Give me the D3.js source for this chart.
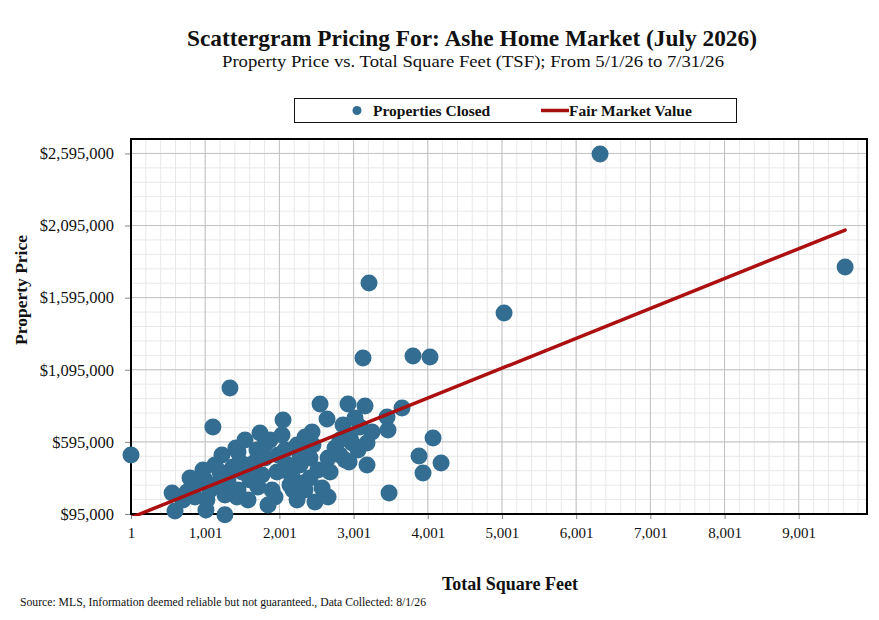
<!DOCTYPE html>
<html>
<head>
<meta charset="utf-8">
<script src="https://cdn.jsdelivr.net/npm/d3@7"></script>
<style>
  body { margin: 0; background: #fff; }
  text { font-family: "Liberation Serif", "DejaVu Serif", serif; fill: #111; }
</style>
</head>
<body>
<div id="chart"></div>
<script>
// properties closed: total square feet and sale price
var sqft = [
  555, 594, 756, 890, 971, 1011, 1024, 1105, 1267, 1227, 1415, 1375, 1200, 1429, 1335,
  1132, 1308, 1469, 1065, 863, 1267, 702, 998, 796,
  1443, 1443, 1497, 1578, 1673, 1699, 1713, 1740, 1767, 1875, 1902, 1942, 1969, 1983,
  2036, 2050, 2117, 2144, 2171, 2185, 2239, 2239, 2319, 2414, 2414, 2441, 2454, 2481,
  2549, 2643, 2657, 2657, 2751, 1807, 1605, 2279, 2522, 2077, 1848, 1538, 2347, 2576,
  2684, 2279, 2050, 2346, 1605, 2818, 1132, 1807,
  2859, 2886, 2926, 2940, 2953, 2980, 3020, 3088, 3128, 3155, 3182, 3182, 3209, 3250,
  3452, 3465, 3479, 3654, 3802, 3883, 3937, 4031, 4072, 4180, 2818, 3061,
  1, 5029, 6323, 9626
];
var price = [
  240000, 116000, 247500, 310000, 400000, 122700, 192000, 698000, 90000, 504000, 552600,
  421000, 386000, 213000, 968600, 296000, 330700, 455500, 261400, 213000, 226700, 192000,
  330700, 344600,
  524800, 261400, 386000, 192000, 455500, 538700, 282200, 656600, 365400, 608000, 261400,
  213000, 386000, 504000, 642700, 746700, 434700, 296000, 351500, 261400, 573400, 192000,
  310000, 483200, 344600, 663500, 573400, 178200, 857600, 753600, 483200, 213000, 552600,
  483200, 330700, 434700, 400000, 538700, 157400, 608000, 628800, 275300, 386000, 504000,
  400000, 261400, 434700, 504000, 434700, 573400,
  712000, 469400, 857600, 455500, 628800, 587200, 760600, 698000, 1176500, 843800, 587200,
  434700, 1696500, 663500, 767500, 677400, 240600, 829900, 1190400, 497100, 379300,
  1183500, 621900, 448600, 608000, 538700,
  504000, 1488500, 2591000, 1807500
];

// fair market value trend line (end points)
var fairSqft = [1, 9626];
var fairPrice = [70000, 2064000];

var xTicks = [1, 1001, 2001, 3001, 4001, 5001, 6001, 7001, 8001, 9001];
var yTicks = [95000, 595000, 1095000, 1595000, 2095000, 2595000];

var W = 879, H = 620;
var pLeft = 131, pRight = 867, pTop = 139, pBottom = 514;

var svg = d3.select("#chart").append("svg")
  .attr("width", W)
  .attr("height", H);

var x = d3.scaleLinear().domain([1, 9921]).range([pLeft, pRight]);
var y = d3.scaleLinear().domain([95000, 2695000]).range([pBottom, pTop]);

// titles
svg.append("text")
  .attr("x", 472).attr("y", 46)
  .attr("text-anchor", "middle")
  .attr("font-size", "23px")
  .attr("font-weight", "bold")
  .attr("textLength", 570)
  .attr("lengthAdjust", "spacingAndGlyphs")
  .text("Scattergram Pricing For: Ashe Home Market (July 2026)");

svg.append("text")
  .attr("x", 473).attr("y", 67)
  .attr("text-anchor", "middle")
  .attr("font-size", "16.5px")
  .attr("textLength", 502)
  .attr("lengthAdjust", "spacingAndGlyphs")
  .text("Property Price vs. Total Square Feet (TSF); From 5/1/26 to 7/31/26");

// legend
var legend = svg.append("g");
legend.append("rect")
  .attr("x", 294.5).attr("y", 98.5)
  .attr("width", 442).attr("height", 24)
  .attr("fill", "#fff")
  .attr("stroke", "#111")
  .attr("stroke-width", 1);
legend.append("circle")
  .attr("cx", 357).attr("cy", 110.5).attr("r", 4.5)
  .attr("fill", "#336d91");
legend.append("text")
  .attr("x", 373).attr("y", 115.5)
  .attr("font-size", "15.5px").attr("font-weight", "bold")
  .text("Properties Closed");
legend.append("line")
  .attr("x1", 541).attr("x2", 569)
  .attr("y1", 110.5).attr("y2", 110.5)
  .attr("stroke", "#a50f0f").attr("stroke-width", 3.5);
legend.append("text")
  .attr("x", 569).attr("y", 115.5)
  .attr("font-size", "15.5px").attr("font-weight", "bold")
  .text("Fair Market Value");

// grid: minor lines first, then major lines
var xMinor = d3.range(201, 9921, 200);
var yMinor = d3.range(195000, 2695000, 100000);

var grid = svg.append("g");
grid.selectAll(".vminor").data(xMinor).join("line")
  .attr("x1", function (d) { return x(d); })
  .attr("x2", function (d) { return x(d); })
  .attr("y1", pTop).attr("y2", pBottom)
  .attr("stroke", "#e8e8e8").attr("stroke-width", 1);
grid.selectAll(".hminor").data(yMinor).join("line")
  .attr("x1", pLeft).attr("x2", pRight)
  .attr("y1", function (d) { return y(d); })
  .attr("y2", function (d) { return y(d); })
  .attr("stroke", "#e8e8e8").attr("stroke-width", 1);
grid.selectAll(".vmajor").data(xTicks).join("line")
  .attr("x1", function (d) { return x(d); })
  .attr("x2", function (d) { return x(d); })
  .attr("y1", pTop).attr("y2", pBottom)
  .attr("stroke", "#c2c2c2").attr("stroke-width", 1);
grid.selectAll(".hmajor").data(yTicks).join("line")
  .attr("x1", pLeft).attr("x2", pRight)
  .attr("y1", function (d) { return y(d); })
  .attr("y2", function (d) { return y(d); })
  .attr("stroke", "#c2c2c2").attr("stroke-width", 1);

// axes
var fmt = d3.format(",");
var xAxis = svg.append("g")
  .attr("transform", "translate(0," + pBottom + ")")
  .call(d3.axisBottom(x).tickValues(xTicks).tickSize(5).tickPadding(8)
    .tickFormat(function (d) { return fmt(d); }));
xAxis.select(".domain").remove();
xAxis.selectAll("line").attr("stroke", "#888");
xAxis.selectAll("text").attr("font-size", "15px")
  .style("font-family", "'Liberation Serif', serif").attr("fill", "#111");

var yAxis = svg.append("g")
  .attr("transform", "translate(" + pLeft + ",0)")
  .call(d3.axisLeft(y).tickValues(yTicks).tickSize(6).tickPadding(11)
    .tickFormat(function (d) { return "$" + fmt(d); }));
yAxis.select(".domain").remove();
yAxis.selectAll("line").attr("stroke", "#888");
yAxis.selectAll("text").attr("font-size", "16.5px")
  .style("font-family", "'Liberation Serif', serif").attr("fill", "#111");

// plot frame
svg.append("rect")
  .attr("x", pLeft).attr("y", pTop)
  .attr("width", pRight - pLeft).attr("height", pBottom - pTop)
  .attr("fill", "none")
  .attr("stroke", "#000")
  .attr("stroke-width", 2);

// clip for the trend line
svg.append("clipPath").attr("id", "plotclip")
  .append("rect")
  .attr("x", pLeft).attr("y", pTop)
  .attr("width", pRight - pLeft).attr("height", pBottom - pTop + 2);

// dots
svg.append("g")
  .selectAll("circle")
  .data(sqft)
  .join("circle")
  .attr("cx", function (d) { return x(d); })
  .attr("cy", function (d, i) { return y(price[i]); })
  .attr("r", 8.5)
  .attr("fill", "#336d91");

// fair market value line
var fair = fairSqft.map(function (d, i) { return [d, fairPrice[i]]; });
svg.append("g")
  .attr("clip-path", "url(#plotclip)")
  .append("path")
  .datum(fair)
  .attr("d", d3.line()
    .x(function (d) { return x(d[0]); })
    .y(function (d) { return y(d[1]); }))
  .attr("fill", "none")
  .attr("stroke", "#ab0f0f")
  .attr("stroke-width", 3.5)
  .attr("stroke-linecap", "round");

// axis titles
svg.append("text")
  .attr("transform", "translate(27,290) rotate(-90)")
  .attr("text-anchor", "middle")
  .attr("font-size", "17.5px").attr("font-weight", "bold")
  .text("Property Price");

svg.append("text")
  .attr("x", 510).attr("y", 590)
  .attr("text-anchor", "middle")
  .attr("font-size", "18px").attr("font-weight", "bold")
  .text("Total Square Feet");

svg.append("text")
  .attr("x", 20).attr("y", 606)
  .attr("font-size", "11.7px")
  .text("Source: MLS, Information deemed reliable but not guaranteed., Data Collected: 8/1/26");
</script>
</body>
</html>
